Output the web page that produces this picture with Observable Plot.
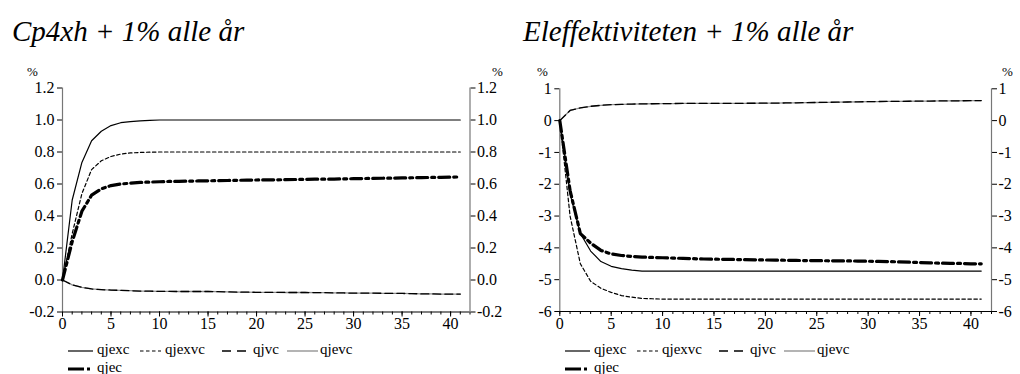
<!DOCTYPE html>
<html>
<head>
<meta charset="utf-8">
<script src="https://cdn.jsdelivr.net/npm/d3@7"></script>
<script src="https://cdn.jsdelivr.net/npm/@observablehq/plot@0.6"></script>
<style>
  html, body { margin: 0; padding: 0; background: #fff; }
  body { width: 1020px; height: 374px; position: relative; overflow: hidden; color: #000; font-family: 'Liberation Serif'; }
  .title { position: absolute; top: 17px; font-family: 'Liberation Serif'; font-style: italic; font-size: 29px; white-space: nowrap; line-height: 1; }
  .pct { position: absolute; top: 65px; font-family: 'Liberation Serif'; font-size: 13px; line-height: 1; }
  .panel { position: absolute; top: 60px; }
  .leg { position: absolute; font-family: 'Liberation Serif'; font-size: 15px; line-height: 1; white-space: nowrap; }
</style>
</head>
<body>
<div class="title" style="left:12px">Cp4xh + 1% alle år</div>
<div class="title" style="left:523px">Eleffektiviteten + 1% alle år</div>
<div class="pct" style="left:27px">%</div>
<div class="pct" style="left:492px">%</div>
<div class="pct" style="left:537px">%</div>
<div class="pct" style="left:1002px">%</div>
<div class="leg" style="left:97px;top:342px">qjexc</div>
<div class="leg" style="left:165px;top:342px">qjexvc</div>
<div class="leg" style="left:253px;top:342px">qjvc</div>
<div class="leg" style="left:320px;top:342px">qjevc</div>
<div class="leg" style="left:97px;top:360px">qjec</div>
<div class="leg" style="left:594px;top:342px">qjexc</div>
<div class="leg" style="left:662px;top:342px">qjexvc</div>
<div class="leg" style="left:750px;top:342px">qjvc</div>
<div class="leg" style="left:817px;top:342px">qjevc</div>
<div class="leg" style="left:594px;top:360px">qjec</div>
<script>
// ---------- data ----------
const years = [0,1,2,3,4,5,6,7,8,9,10,11,12,13,14,15,16,17,18,19,20,21,22,23,24,25,26,27,28,29,30,31,32,33,34,35,36,37,38,39,40,41];

const seriesNames = ["qjexc", "qjexvc", "qjvc", "qjevc", "qjec"];

// Panel 1: Cp4xh + 1% alle år
const L_qjexc  = [0,0.50,0.735,0.87,0.93,0.965,0.983,0.99,0.995,0.998,1.0,1.0,1.0,1.0,1.0,1.0,1.0,1.0,1.0,1.0,1.0,1.0,1.0,1.0,1.0,1.0,1.0,1.0,1.0,1.0,1.0,1.0,1.0,1.0,1.0,1.0,1.0,1.0,1.0,1.0,1.0,1.0];
const L_qjexvc = [0,0.29,0.54,0.69,0.745,0.772,0.787,0.794,0.797,0.799,0.80,0.80,0.80,0.80,0.80,0.80,0.80,0.80,0.80,0.80,0.80,0.80,0.80,0.80,0.80,0.80,0.80,0.80,0.80,0.80,0.80,0.80,0.80,0.80,0.80,0.80,0.80,0.80,0.80,0.80,0.80,0.80];
const L_qjvc   = [0,-0.03,-0.046,-0.056,-0.06,-0.063,-0.065,-0.067,-0.069,-0.07,-0.071,-0.071,-0.072,-0.072,-0.072,-0.072,-0.073,-0.074,-0.076,-0.076,-0.077,-0.077,-0.077,-0.078,-0.078,-0.078,-0.079,-0.079,-0.081,-0.081,-0.082,-0.082,-0.082,-0.083,-0.083,-0.084,-0.085,-0.087,-0.087,-0.088,-0.088,-0.088];
const L_qjevc  = [0,-0.03,-0.046,-0.056,-0.06,-0.063,-0.065,-0.067,-0.069,-0.07,-0.071,-0.071,-0.072,-0.072,-0.072,-0.072,-0.073,-0.074,-0.076,-0.076,-0.077,-0.077,-0.077,-0.078,-0.078,-0.078,-0.079,-0.079,-0.081,-0.081,-0.082,-0.082,-0.082,-0.083,-0.083,-0.084,-0.085,-0.087,-0.087,-0.088,-0.088,-0.088];
const L_qjec   = [0,0.24,0.43,0.53,0.57,0.59,0.60,0.605,0.61,0.612,0.614,0.616,0.617,0.618,0.619,0.62,0.621,0.622,0.623,0.624,0.625,0.626,0.626,0.627,0.628,0.629,0.63,0.63,0.631,0.632,0.633,0.634,0.635,0.636,0.637,0.638,0.639,0.64,0.641,0.642,0.643,0.644];
const L_yTicks = [-0.2,0.0,0.2,0.4,0.6,0.8,1.0,1.2];

// Panel 2: Eleffektiviteten + 1% alle år
const R_qjexc  = [0,-2.3,-3.55,-4.1,-4.43,-4.58,-4.65,-4.7,-4.73,-4.73,-4.73,-4.73,-4.73,-4.73,-4.73,-4.73,-4.73,-4.73,-4.73,-4.73,-4.73,-4.73,-4.73,-4.73,-4.73,-4.73,-4.73,-4.73,-4.73,-4.73,-4.73,-4.73,-4.73,-4.73,-4.73,-4.73,-4.73,-4.73,-4.73,-4.73,-4.73,-4.73];
const R_qjexvc = [0,-3.0,-4.5,-5.05,-5.27,-5.4,-5.5,-5.55,-5.59,-5.6,-5.61,-5.61,-5.61,-5.61,-5.61,-5.61,-5.61,-5.61,-5.61,-5.61,-5.61,-5.61,-5.61,-5.61,-5.61,-5.61,-5.61,-5.61,-5.61,-5.61,-5.61,-5.61,-5.61,-5.61,-5.61,-5.61,-5.61,-5.61,-5.61,-5.61,-5.61,-5.61];
const R_qjvc   = [0,0.32,0.40,0.45,0.48,0.50,0.51,0.52,0.525,0.53,0.535,0.537,0.539,0.54,0.541,0.542,0.543,0.544,0.545,0.546,0.548,0.551,0.555,0.56,0.565,0.57,0.575,0.58,0.585,0.59,0.595,0.60,0.603,0.606,0.609,0.612,0.615,0.618,0.621,0.624,0.627,0.63];
const R_qjevc  = [0,0.32,0.40,0.45,0.48,0.50,0.51,0.52,0.525,0.53,0.535,0.537,0.539,0.54,0.541,0.542,0.543,0.544,0.545,0.546,0.548,0.551,0.555,0.56,0.565,0.57,0.575,0.58,0.585,0.59,0.595,0.60,0.603,0.606,0.609,0.612,0.615,0.618,0.621,0.624,0.627,0.63];
const R_qjec   = [0,-2.2,-3.55,-3.85,-4.08,-4.19,-4.24,-4.27,-4.29,-4.30,-4.31,-4.32,-4.33,-4.34,-4.35,-4.355,-4.36,-4.365,-4.37,-4.375,-4.38,-4.385,-4.39,-4.395,-4.40,-4.40,-4.405,-4.41,-4.41,-4.415,-4.42,-4.425,-4.43,-4.44,-4.45,-4.46,-4.47,-4.48,-4.49,-4.49,-4.50,-4.50];
const R_yTicks = [-6,-5,-4,-3,-2,-1,0,1];

const xMajor = [0,5,10,15,20,25,30,35,40];

// ---------- styles ----------
const styles = {
  qjevc:  {stroke: "#8c8c8c", strokeWidth: 1.3, strokeDasharray: null},
  qjexc:  {stroke: "#000", strokeWidth: 1.2, strokeDasharray: null},
  qjexvc: {stroke: "#000", strokeWidth: 1.2, strokeDasharray: "3.5,2.5"},
  qjvc:   {stroke: "#000", strokeWidth: 1.3, strokeDasharray: "8,4"},
  qjec:   {stroke: "#000", strokeWidth: 3.2, strokeDasharray: "11,4,3,4"}
};

function toRows(obj) {
  const rows = [];
  for (const name of seriesNames) obj[name].forEach((v, i) => rows.push({year: years[i], value: v, series: name}));
  return rows;
}

function makePanel(cfg) {
  const rows = toRows(cfg.series);
  const drawOrder = ["qjevc", "qjexc", "qjexvc", "qjvc", "qjec"];
  const lineMarks = drawOrder.map(name => Plot.line(rows.filter(r => r.series === name), {
    x: "year", y: "value",
    stroke: styles[name].stroke, strokeWidth: styles[name].strokeWidth,
    strokeDasharray: styles[name].strokeDasharray, strokeLinejoin: "round"
  }));
  const [y0] = cfg.yDomain;
  return Plot.plot({
    width: 510, height: 280,
    marginLeft: cfg.mL, marginRight: cfg.mR, marginTop: cfg.mT, marginBottom: cfg.mB,
    style: {fontFamily: "Liberation Serif", fontSize: "16px", color: "#000", background: "transparent", overflow: "visible"},
    x: {domain: [0, 42]},
    y: {domain: cfg.yDomain},
    marks: [
      Plot.axisY({anchor: "left", ticks: cfg.yTicks, tickFormat: cfg.fmt, tickSize: 5, tickPadding: 3, label: null, fontSize: 16}),
      Plot.axisY({anchor: "right", ticks: cfg.yTicks, tickFormat: cfg.fmt, tickSize: 5, tickPadding: 2, label: null, fontSize: 16}),
      Plot.axisX({anchor: "bottom", ticks: years.concat([42]), tickFormat: () => "", tickSize: 3, label: null}),
      Plot.axisX({anchor: "bottom", ticks: xMajor, tickFormat: d => String(d), tickSize: 5, tickPadding: 1, label: null, fontSize: 16}),
      Plot.ruleX([0], {stroke: "#777", strokeWidth: 1.2}),
      Plot.ruleX([42], {stroke: "#777", strokeWidth: 1.2}),
      ...lineMarks,
      Plot.ruleY([y0], {stroke: "#000", strokeWidth: 1.2})
    ]
  });
}

const panels = [
  {left: 0, mL: 62, mR: 40.5, mT: 27.5, mB: 28.5,
   yDomain: [-0.2, 1.2], yTicks: L_yTicks, fmt: d => d.toFixed(1),
   series: {qjexc: L_qjexc, qjexvc: L_qjexvc, qjvc: L_qjvc, qjevc: L_qjevc, qjec: L_qjec}},
  {left: 510, mL: 49.3, mR: 29, mT: 28.3, mB: 29,
   yDomain: [-6, 1], yTicks: R_yTicks, fmt: d => String(d),
   series: {qjexc: R_qjexc, qjexvc: R_qjexvc, qjvc: R_qjvc, qjevc: R_qjevc, qjec: R_qjec}}
];

for (const p of panels) {
  const wrap = document.createElement("div");
  wrap.className = "panel"; wrap.style.left = p.left + "px";
  wrap.appendChild(makePanel(p));
  document.body.appendChild(wrap);

  // legend samples
  const ax = p.left + p.mL;
  const items = [
    {name: "qjexc",  sx: 6,   sw: 25, row: 0},
    {name: "qjexvc", sx: 78,  sw: 21, row: 0},
    {name: "qjvc",   sx: 160, sw: 25, row: 0},
    {name: "qjevc",  sx: 225, sw: 31, row: 0},
    {name: "qjec",   sx: 6,   sw: 25, row: 1}
  ];
  const rowY = [351, 369];
  for (const it of items) {
    const st = styles[it.name];
    const s = d3.create("svg").attr("width", it.sw).attr("height", 6)
      .style("left", (ax + it.sx) + "px").style("top", (rowY[it.row] - 3) + "px").style("position", "absolute").style("overflow", "visible");
    s.append("line").attr("x1", 0).attr("x2", it.sw).attr("y1", 3).attr("y2", 3)
      .attr("stroke", st.stroke).attr("stroke-width", st.strokeWidth)
      .attr("stroke-dasharray", it.name === "qjec" ? "16,3,3,3" : (it.name === "qjvc" ? "9,6" : st.strokeDasharray));
    document.body.appendChild(s.node());
  }
}
</script>
</body>
</html>
